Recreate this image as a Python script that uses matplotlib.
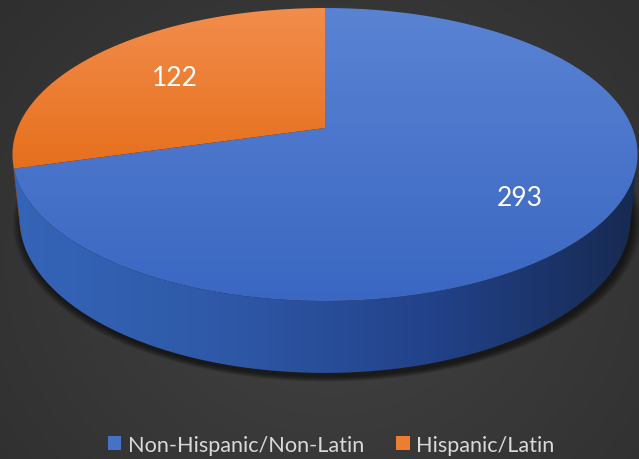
import numpy as np
import matplotlib
matplotlib.use("Agg")
import matplotlib.pyplot as plt
from matplotlib.patches import Polygon, Patch
from matplotlib.colors import to_rgb

# data
labels = ["Non-Hispanic/Non-Latin", "Hispanic/Latin"]
values = [293, 122]
top_colors = [("#5a83d3", "#3a67c2"), ("#f28d4c", "#e66f1c")]
side_colors = [("#3565b8", "#2f59a8", "#22428a", "#162950"), ("#c9601a", "#b85614", "#a84e12", "#8a3f0e")]
legend_colors = ["#4472c4", "#ed7d31"]

# camera for the 3d pie (pixel space)
e = np.arcsin(0.461)
se, ce = np.sin(e), np.cos(e)
D = 4.905
S = 1507.6
H = 0.236
CX, CY = 325.0, 129.0


def proj(X, Y, Z):
    depth = Y * ce + D - Z * se
    up = Y * se + Z * ce
    return CX + S * X / depth, CY - S * up / depth


def circle(t, z):
    return proj(np.sin(t), np.cos(t), z)


W, Hpx = 639, 460
fig = plt.figure(figsize=(W / 100, Hpx / 100), dpi=100)
ax = fig.add_axes([0, 0, 1, 1])
ax.set_xlim(0, W)
ax.set_ylim(Hpx, 0)
ax.axis("off")

# background radial gradient
yy, xx = np.mgrid[0:Hpx, 0:W]
r = np.sqrt(((xx - 330) / 420) ** 2 + ((yy - 260) / 380) ** 2)
g = np.clip(0.262 - 0.075 * r, 0.17, 0.27)
bg = np.dstack([g, g, g])
ax.imshow(bg, extent=(0, W, Hpx, 0), aspect="auto", zorder=0)


def grad_fill(pts, stops, vertical, z):
    patch = Polygon(pts, closed=True, facecolor="none", edgecolor="none",
                    transform=ax.transData)
    ax.add_patch(patch)
    cols = np.array([to_rgb(c) for c in stops])
    pos = np.linspace(0, 1, len(cols))
    tt = np.linspace(0, 1, 256)
    arr = np.stack([np.interp(tt, pos, cols[:, k]) for k in range(3)], -1)
    if vertical:
        y0, y1 = pts[:, 1].min(), pts[:, 1].max()
        img = arr[:, None, :]
        ext = (0, W, y1 + 1, y0 - 1)
    else:
        img = arr[None, :, :]
        ext = (10, 640, Hpx, 0)
    im = ax.imshow(img, extent=ext, aspect="auto", zorder=z, interpolation="bilinear")
    im.set_clip_path(patch)


# slice angles, clockwise from 12 o'clock
total = sum(values)
angles = np.cumsum([0] + values) / total * 2 * np.pi

# drop shadow under the pie
tb = np.linspace(0, 2 * np.pi, 400)
bx, by = circle(tb, -H)
bcx, bcy = bx.mean(), by.mean()
for k in range(8):
    f = 1.0 + 0.004 * k
    sx = bcx + (bx - bcx) * f + 2
    sy = bcy + (by - bcy) * f + 4
    ax.add_patch(Polygon(np.column_stack([sx, sy]), closed=True,
                         facecolor="black", edgecolor="none", alpha=0.09, zorder=1))

# side wall (visible where cos t < -1/(D*ce))
lim = np.arccos(-1 / (D * ce))
for i in range(len(values)):
    a0 = max(angles[i], lim)
    a1 = min(angles[i + 1], 2 * np.pi - lim)
    if a1 <= a0:
        continue
    t = np.linspace(a0, a1, 200)
    x1, y1 = circle(t, 0)
    x2, y2 = circle(t[::-1], -H)
    pts = np.column_stack([np.r_[x1, x2], np.r_[y1, y2]])
    grad_fill(pts, side_colors[i], False, 2)

# top faces
for i in range(len(values)):
    t = np.linspace(angles[i], angles[i + 1], 300)
    x, y = circle(t, 0)
    pts = np.column_stack([np.r_[CX, x], np.r_[CY, y]])
    grad_fill(pts, top_colors[i], True, 3)

# data labels
for i in range(len(values)):
    m = (angles[i] + angles[i + 1]) / 2
    lx, ly = proj(0.7 * np.sin(m), 0.7 * np.cos(m), 0)
    ax.text(lx + 9, ly + 5, str(values[i]), color="white", fontsize=19, family="Lato",
            ha="center", va="center", zorder=5)

handles = [Patch(facecolor=c, edgecolor="none") for c in legend_colors]
fig.legend(handles, labels, loc="center", bbox_to_anchor=(331 / W, 1 - 446 / Hpx),
           ncol=2, frameon=False, handlelength=0.62, handleheight=0.62,
           handletextpad=0.3, columnspacing=1.5,
           prop={"family": "Lato", "size": 15.6}, labelcolor="#d9d9d9")

fig.savefig("out.png", dpi=100)
